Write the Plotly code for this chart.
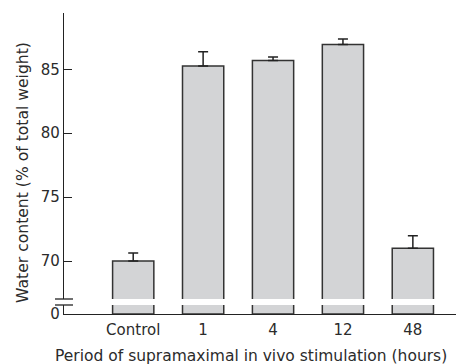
import plotly.graph_objects as go

categories = ["Control", "1", "4", "12", "48"]
water_content = [70.0, 85.26, 85.68, 86.93, 70.99]
error_plus = [0.62, 1.1, 0.28, 0.44, 0.98]
error_minus = [0, 0, 0, 0, 0]
upper_ticks = [70, 75, 80, 85]
lower_ticks = [0]

FONT = "DejaVu Sans"
TXT = "#2b2b2b"
BAR_FILL = "#d3d4d6"
BAR_LINE = "#333333"

fig = go.Figure()

# lower (broken) segment showing zero
fig.add_trace(go.Bar(
    x=categories, y=water_content, xaxis="x", yaxis="y",
    width=0.59, marker=dict(color=BAR_FILL, line=dict(color=BAR_LINE, width=1.5)),
    showlegend=False, hoverinfo="skip"))

# upper segment with the actual values
fig.add_trace(go.Bar(
    x=categories, y=water_content, xaxis="x2", yaxis="y2",
    width=0.59, marker=dict(color=BAR_FILL, line=dict(color=BAR_LINE, width=1.5)),
    error_y=dict(type="data", symmetric=False, array=error_plus, arrayminus=error_minus,
                 color="#222222", thickness=1.5, width=5),
    showlegend=False))

lower_top = 9 / 301
upper_bottom = 15 / 301

axis_common = dict(showgrid=False, zeroline=False, linecolor="#222222", linewidth=1.3)

fig.update_layout(
    width=464, height=364,
    margin=dict(l=56, r=13, t=5, b=58),
    paper_bgcolor="white", plot_bgcolor="white",
    font=dict(family=FONT, color=TXT, size=15),
    xaxis=dict(**axis_common, type="category", range=[-0.99, 4.66], showline=True,
               ticks="", tickfont=dict(size=15, color=TXT), anchor="y",
               ticklabelstandoff=2),
    xaxis2=dict(type="category", range=[-0.99, 4.66], matches="x", showline=False,
                showticklabels=False, ticks="", showgrid=False, zeroline=False, anchor="y2"),
    yaxis=dict(**axis_common, domain=[0, lower_top], range=[0, 10], showline=True,
               tickmode="array", tickvals=lower_ticks, ticktext=["0"],
               ticks="", tickfont=dict(size=15, color=TXT), anchor="x"),
    yaxis2=dict(**axis_common, domain=[upper_bottom, 1], range=[67.03, 89.4], showline=True,
                tickmode="array", tickvals=upper_ticks, ticks="inside", ticklen=8,
                tickwidth=1.2, tickcolor="#222222",
                tickfont=dict(size=15, color=TXT), anchor="x2"),
    annotations=[
        dict(text="Water content (% of total weight)", xref="paper", yref="paper",
             x=-0.104, y=(314 - 172) / 301, textangle=-90, showarrow=False,
             font=dict(size=15.6, color=TXT), xanchor="center", yanchor="middle"),
        dict(text="Period of supramaximal in vivo stimulation (hours)", xref="paper",
             yref="paper", x=(251 - 64) / 395, y=-(356 - 314) / 301, showarrow=False,
             font=dict(size=15.5, color=TXT), xanchor="center", yanchor="middle"),
    ],
    shapes=[
        dict(type="line", xref="paper", yref="y2 domain", x0=-9 / 395, x1=9 / 395,
             y0=0, y1=0, line=dict(color="#222222", width=1.3)),
        dict(type="line", xref="paper", yref="y domain", x0=-9 / 395, x1=9 / 395,
             y0=1, y1=1, line=dict(color="#222222", width=1.3)),
    ],
)

fig.write_html("out.html")
